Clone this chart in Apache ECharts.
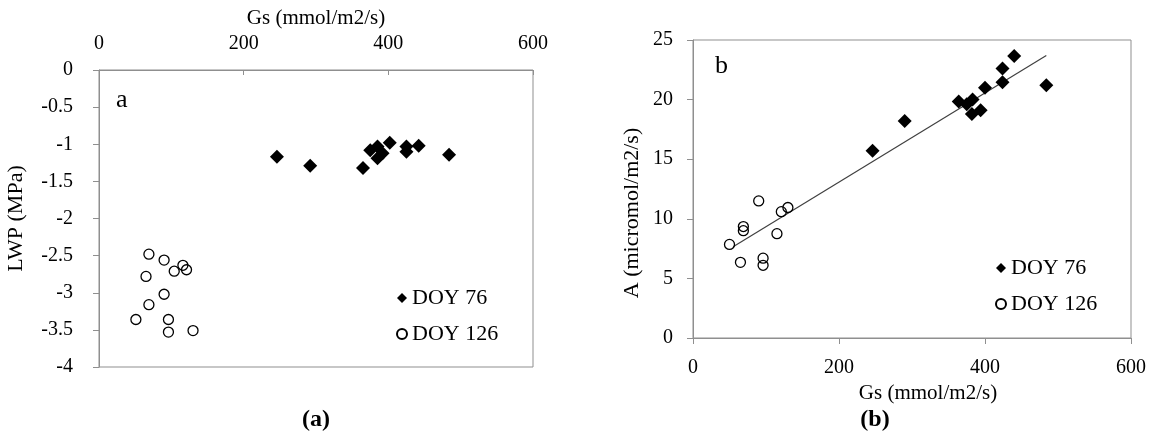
<!DOCTYPE html>
<html>
<head>
<meta charset="utf-8">
<script src="https://cdn.jsdelivr.net/npm/echarts@6/dist/echarts.min.js"></script>
<style>
  html, body { margin: 0; padding: 0; background: #fff; }
  #chart { width: 1149px; height: 439px; }
</style>
</head>
<body>
<div id="chart"></div>
<script>
// panel a: LWP vs Gs
var gsDoy76A = [246, 292, 365, 375, 385, 385, 392, 402, 425, 425, 442, 484];
var lwpDoy76 = [-1.17, -1.29, -1.32, -1.08, -1.03, -1.19, -1.12, -0.98, -1.03, -1.10, -1.02, -1.14];
var gsDoy126A = [69, 90, 116, 121, 104, 65, 90, 69, 51, 96, 96, 130];
var lwpDoy126 = [-2.48, -2.56, -2.63, -2.69, -2.71, -2.78, -3.02, -3.16, -3.36, -3.36, -3.53, -3.51];

// panel b: A vs Gs
var gsDoy76B = [246, 290, 364, 375, 383, 382, 394, 400, 424, 424, 440, 484];
var aDoy76 = [15.7, 18.2, 19.85, 19.6, 20.0, 18.8, 19.1, 21.0, 22.6, 21.45, 23.65, 21.2];
var gsDoy126B = [50, 65, 69, 69, 90, 96, 96, 115, 121, 130];
var aDoy126 = [7.85, 6.35, 9.35, 9.0, 11.5, 6.7, 6.1, 8.75, 10.6, 10.95];

// fitted line end points
var trendGs = [55, 484];
var trendA = [7.65, 23.7];

var legendNames = ['DOY 76', 'DOY 126'];
var captions = ['(a)', '(b)'];
var panelLetters = ['a', 'b'];

function pairs(xs, ys) {
  return xs.map(function(x, i) { return [x, ys[i]]; });
}

var serif = 'Liberation Serif';
var gray = '#8f8f8f';

var axisBase = {
  type: 'value',
  splitLine: { show: false },
  axisLine: { show: true, lineStyle: { color: gray, width: 1 } },
  axisTick: { show: true, length: 6, lineStyle: { color: gray } },
  axisLabel: { color: '#000', fontFamily: serif, fontSize: 20 },
  nameTextStyle: { color: '#000', fontFamily: serif, fontSize: 21 }
};

function axis(extra) {
  return echarts.util.merge(echarts.util.clone(axisBase), extra, true);
}

var diamondStyle = { color: '#000', opacity: 1 };
var circleStyle = { color: 'transparent', borderColor: '#000', borderWidth: 1.3, opacity: 1 };
var legendText = { fontFamily: serif, fontSize: 22, color: '#000' };

var option = {
  animation: false,
  backgroundColor: '#fff',
  textStyle: { fontFamily: serif },
  title: [
    { text: panelLetters[0], left: 116, top: 87, textStyle: { fontFamily: serif, fontSize: 26, fontWeight: 'normal', color: '#000' }, padding: 0 },
    { text: panelLetters[1], left: 715, top: 53, textStyle: { fontFamily: serif, fontSize: 26, fontWeight: 'normal', color: '#000' }, padding: 0 },
    { text: captions[0], left: 316, top: 408, textAlign: 'center', textStyle: { fontFamily: serif, fontSize: 24, fontWeight: 'bold', color: '#000' }, padding: 0 },
    { text: captions[1], left: 875, top: 408, textAlign: 'center', textStyle: { fontFamily: serif, fontSize: 24, fontWeight: 'bold', color: '#000' }, padding: 0 }
  ],
  legend: [
    {
      data: legendNames, orient: 'vertical', left: 396, top: 287, padding: 0,
      itemGap: 14, itemWidth: 10, itemHeight: 10, textStyle: legendText
    },
    {
      data: legendNames, orient: 'vertical', left: 995, top: 257, padding: 0,
      itemGap: 14, itemWidth: 10, itemHeight: 10, textStyle: legendText
    }
  ],
  grid: [
    { left: 99, top: 70, width: 434, height: 297, show: true, borderColor: gray, borderWidth: 1 },
    { left: 693, top: 40, width: 440, height: 298, show: true, borderColor: gray, borderWidth: 1 }
  ],
  xAxis: [
    axis({
      gridIndex: 0, position: 'top', min: 0, max: 600, interval: 200,
      axisTick: { inside: true, length: 5 },
      axisLabel: { margin: 16 },
      name: 'Gs (mmol/m2/s)', nameLocation: 'middle', nameGap: 35
    }),
    axis({
      gridIndex: 1, position: 'bottom', min: 0, max: 600, interval: 200,
      axisLabel: { margin: 20 },
      name: 'Gs (mmol/m2/s)', nameLocation: 'middle', nameGap: 43,
      nameTextStyle: { padding: [0, 0, 0, 32] }
    })
  ],
  yAxis: [
    axis({
      gridIndex: 0, min: -4, max: 0, interval: 0.5,
      axisLabel: { margin: 26 },
      name: 'LWP (MPa)', nameLocation: 'middle', nameGap: 72,
      nameTextStyle: { fontSize: 22 }
    }),
    axis({
      gridIndex: 1, min: 0, max: 25, interval: 5,
      axisLabel: { margin: 20 },
      name: 'A (micromol/m2/s)', nameLocation: 'middle', nameGap: 50,
      nameTextStyle: { fontSize: 22, padding: [0, 48, 0, 0] }
    })
  ],
  series: [
    {
      name: 'DOY 76', type: 'scatter', xAxisIndex: 0, yAxisIndex: 0,
      symbol: 'diamond', symbolSize: 14, itemStyle: diamondStyle,
      data: pairs(gsDoy76A, lwpDoy76)
    },
    {
      name: 'DOY 126', type: 'scatter', xAxisIndex: 0, yAxisIndex: 0,
      symbol: 'circle', symbolSize: 10, itemStyle: circleStyle,
      data: pairs(gsDoy126A, lwpDoy126)
    },
    {
      name: 'DOY 76', type: 'scatter', xAxisIndex: 1, yAxisIndex: 1,
      symbol: 'diamond', symbolSize: 14, itemStyle: diamondStyle,
      data: pairs(gsDoy76B, aDoy76)
    },
    {
      name: 'DOY 126', type: 'scatter', xAxisIndex: 1, yAxisIndex: 1,
      symbol: 'circle', symbolSize: 10, itemStyle: circleStyle,
      data: pairs(gsDoy126B, aDoy126)
    },
    {
      name: 'trend', type: 'line', xAxisIndex: 1, yAxisIndex: 1,
      symbol: 'none', silent: true, z: 1,
      lineStyle: { color: '#404040', width: 1.2 },
      data: pairs(trendGs, trendA)
    }
  ]
};

echarts.init(document.getElementById('chart')).setOption(option);
</script>
</body>
</html>
